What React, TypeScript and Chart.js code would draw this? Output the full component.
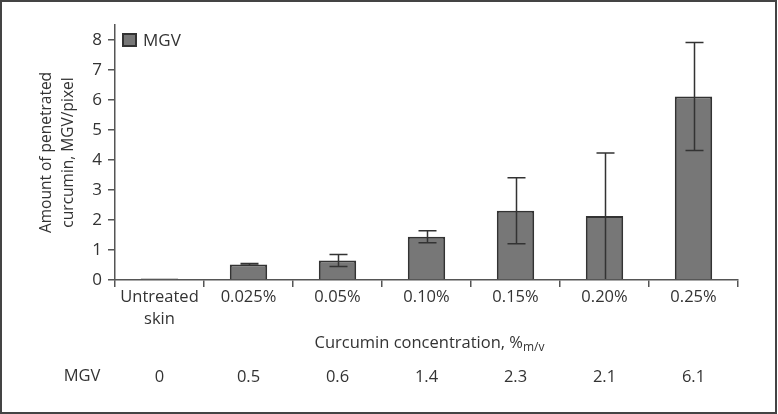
import React, { useEffect, useRef } from "react";
import { Chart, registerables } from "chart.js";

Chart.register(...registerables);

const categories: (string | string[])[] = [["Untreated", "skin"], "0.025%", "0.05%", "0.10%", "0.15%", "0.20%", "0.25%"];
const mgvValues = [0.05, 0.52, 0.65, 1.44, 2.31, 2.13, 6.12];
const mgvErrors = [0, 0.03, 0.2, 0.2, 1.1, 2.1, 1.8];
const tableValues = ["0", "0.5", "0.6", "1.4", "2.3", "2.1", "6.1"];
const yTickValues = [0, 1, 2, 3, 4, 5, 6, 7, 8];
const seriesName = "MGV";
const yTitleLines = ["Amount of penetrated", "curcumin, MGV/pixel"];
const xTitleMain = "Curcumin concentration, %";
const xTitleSub = "m/v";

const FONT = "'Open Sans', 'Noto Sans', sans-serif";
const TEXT = "#333333";
const AXIS = "#555555";
const BAR = "#777777";
const BAR_EDGE = "#333333";

const overlay = {
  id: "overlay",
  afterDatasetsDraw(chart: any) {
    const ctx = chart.ctx;
    const x = chart.scales.x;
    const y = chart.scales.y;
    ctx.save();
    ctx.strokeStyle = "#333333";
    ctx.lineWidth = 1.5;
    mgvValues.forEach((v, i) => {
      const e = mgvErrors[i];
      if (!e) return;
      const cx = Math.round(x.getPixelForValue(i)) + 0.5;
      const top = y.getPixelForValue(v + e);
      const bot = y.getPixelForValue(Math.max(0, v - e));
      ctx.beginPath();
      ctx.moveTo(cx, top);
      ctx.lineTo(cx, bot);
      ctx.moveTo(cx - 9, top);
      ctx.lineTo(cx + 9, top);
      if (v - e > 0.1) {
        ctx.moveTo(cx - 9, bot);
        ctx.lineTo(cx + 9, bot);
      }
      ctx.stroke();
    });
    ctx.restore();
  },
  afterDraw(chart: any) {
    const ctx = chart.ctx;
    const x = chart.scales.x;
    const area = chart.chartArea;
    ctx.save();
    // legend
    const lx = x.left + 8;
    const ly = chart.scales.y.getPixelForValue(8);
    ctx.fillStyle = BAR;
    ctx.fillRect(lx, ly - 6, 13, 12);
    ctx.strokeStyle = BAR_EDGE;
    ctx.lineWidth = 2;
    ctx.strokeRect(lx, ly - 6, 13, 12);
    ctx.fillStyle = TEXT;
    ctx.font = `17px ${FONT}`;
    ctx.textBaseline = "middle";
    ctx.textAlign = "left";
    ctx.fillText(seriesName, lx + 20, ly + 1);

    // y title
    const cy = (area.top + area.bottom) / 2;
    ctx.font = `15.5px ${FONT}`;
    ctx.textAlign = "center";
    ctx.textBaseline = "middle";
    [47, 69].forEach((px, i) => {
      ctx.save();
      ctx.translate(px, cy);
      ctx.rotate(-Math.PI / 2);
      ctx.fillText(yTitleLines[i], 0, 0);
      ctx.restore();
    });

    // x title with subscript
    ctx.font = `16.5px ${FONT}`;
    const mainW = ctx.measureText(xTitleMain).width;
    ctx.font = `12px ${FONT}`;
    const subW = ctx.measureText(xTitleSub).width;
    const tx = (x.left + x.right) / 2 - (mainW + subW) / 2 + 3;
    ctx.textAlign = "left";
    ctx.textBaseline = "middle";
    ctx.font = `16.5px ${FONT}`;
    ctx.fillText(xTitleMain, tx, 343);
    ctx.font = `12px ${FONT}`;
    ctx.fillText(xTitleSub, tx + mainW, 348);

    // table row
    ctx.font = `16.5px ${FONT}`;
    ctx.textAlign = "center";
    ctx.fillText(seriesName, 82, 376);
    tableValues.forEach((t, i) => {
      ctx.fillText(t, x.getPixelForValue(i), 377);
    });

    // frame
    ctx.strokeStyle = "#444444";
    ctx.lineWidth = 2;
    ctx.strokeRect(1, 1, chart.width - 3, chart.height - 2);
    ctx.restore();
  },
};

export default function App() {
  const ref = useRef<HTMLCanvasElement | null>(null);
  useEffect(() => {
    document.body.style.margin = "0";
    const canvas = ref.current;
    if (!canvas) return;
    const chart = new Chart(canvas, {
      type: "bar",
      data: {
        labels: categories,
        datasets: [
          {
            label: seriesName,
            data: mgvValues,
            backgroundColor: BAR,
            borderColor: BAR_EDGE,
            borderWidth: 2,
            barPercentage: 0.42,
            categoryPercentage: 1,
          },
        ],
      },
      options: {
        responsive: false,
        animation: false,
        maintainAspectRatio: false,
        layout: { padding: { left: 0, right: 40, top: 25, bottom: 0 } },
        plugins: { legend: { display: false }, tooltip: { enabled: false } },
        scales: {
          x: {
            grid: { drawOnChartArea: false, drawTicks: true, tickLength: 7, color: AXIS, lineWidth: 1.5, offset: true },
            border: { display: true, color: AXIS, width: 1.5 },
            ticks: { color: TEXT, font: { family: FONT, size: 16.5, lineHeight: 1.3 }, padding: 0, maxRotation: 0, autoSkip: false },
            afterFit: (s: any) => { s.height = 134; },
          },
          y: {
            min: 0,
            max: 8.5,
            afterBuildTicks: (s: any) => { s.ticks = yTickValues.map((v) => ({ value: v })); },
            grid: { drawOnChartArea: false, drawTicks: true, tickLength: 7, color: AXIS, lineWidth: 1.5 },
            border: { display: true, color: AXIS, width: 1.5 },
            ticks: { color: TEXT, font: { family: FONT, size: 17 }, padding: 6 },
            afterFit: (s: any) => { s.width = 115; },
          },
        },
      },
      plugins: [overlay],
    });
    return () => chart.destroy();
  }, []);
  return (
    <div style={{ position: "fixed", left: 0, top: 0, width: 778, height: 414, background: "#fff" }}>
      <canvas ref={ref} width={778} height={414} style={{ width: 778, height: 414 }} />
    </div>
  );
}
